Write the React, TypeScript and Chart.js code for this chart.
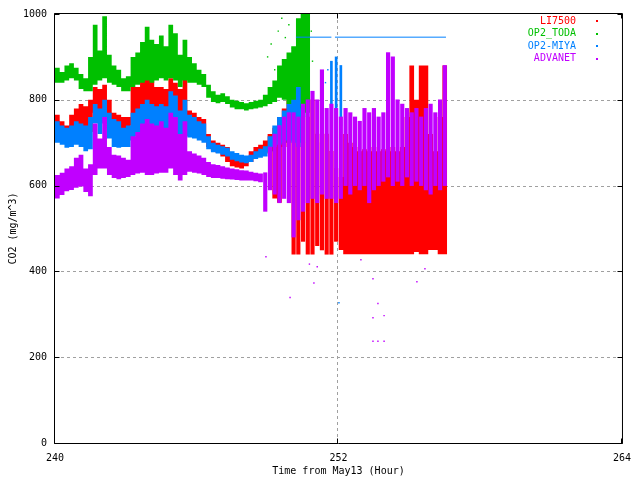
import { useEffect, useRef } from 'react';
import { Chart, registerables } from 'chart.js';

Chart.register(...registerables);

// time bins (hour from May13), 0.2 h wide, centre values
const BIN_WIDTH = 0.2;
const HOURS = [
  240.1, 240.3, 240.5, 240.7, 240.9, 241.1, 241.3, 241.5, 241.7, 241.9,
  242.1, 242.3, 242.5, 242.7, 242.9, 243.1, 243.3, 243.5, 243.7, 243.9,
  244.1, 244.3, 244.5, 244.7, 244.9, 245.1, 245.3, 245.5, 245.7, 245.9,
  246.1, 246.3, 246.5, 246.7, 246.9, 247.1, 247.3, 247.5, 247.7, 247.9,
  248.1, 248.3, 248.5, 248.7, 248.9, 249.1, 249.3, 249.5, 249.7, 249.9,
  250.1, 250.3, 250.5, 250.7, 250.9, 251.1, 251.3, 251.5, 251.7, 251.9,
  252.1, 252.3, 252.5, 252.7, 252.9, 253.1, 253.3, 253.5, 253.7, 253.9,
  254.1, 254.3, 254.5, 254.7, 254.9, 255.1, 255.3, 255.5, 255.7, 255.9,
  256.1, 256.3, 256.5,
];
// bins where a series no longer forms a band but scattered streaks
const ADVANET_STREAK_BINS = [44, 83];
const LI7500_STREAK_BINS = [50, 60];
const MIYA_STREAK_BINS = [58, 61];

// min / max of each series inside each bin (mg/m^3)
const LI7500_HI = [
  765, 750, 740, 765, 780, 790, 785, 800, 830, 825,
  835, 800, 770, 765, 760, 760, 830, 830, 850, 860,
  855, 830, 830, 825, 850, 840, 825, 860, 775, 770,
  760, 755, 720, 705, 700, 695, 690, 675, 670, 665,
  668, 680, 690, 695, 705, 720, 735, 760, 780, 800,
  760, 840, 700, 760, 800, 720, 700, 720, 680, 640,
  620, 720, 700, 690, 680, 685, 680, 690, 680, 685,
  680, 690, 680, 690, 760, 880, 800, 880, 880, 720,
  680, 760, 880,
];
const LI7500_LO = [
  720, 715, 710, 715, 720, 725, 720, 725, 770, 760,
  770, 745, 730, 720, 715, 715, 740, 745, 750, 755,
  755, 745, 745, 740, 745, 735, 730, 740, 725, 720,
  712, 705, 690, 680, 676, 668, 655, 645, 642, 640,
  645, 655, 668, 672, 675, 680, 570, 560, 690, 700,
  440, 440, 470, 440, 440, 460, 450, 440, 440, 470,
  450, 440, 440, 440, 440, 440, 440, 440, 440, 440,
  440, 440, 440, 440, 440, 440, 445, 440, 440, 450,
  450, 440, 440,
];

const TODA_HI = [
  875, 865, 880, 885, 875, 860, 850, 900, 975, 915,
  995, 905, 880, 870, 850, 855, 900, 910, 935, 970,
  940, 930, 950, 925, 975, 955, 905, 940, 900, 885,
  870, 860, 835, 820, 812, 815, 808, 800, 798, 795,
  792, 795, 798, 800, 812, 830, 845, 880, 895, 910,
  925, 990, 1000, 1000, null, null, null, null, null, null,
  null, null, null, null, null, null, null, null, null, null,
  null, null, null, null, null, null, null, null, null, null,
  null, null, null,
];
const TODA_LO = [
  840, 840, 845, 850, 845, 825, 820, 820, 835, 845,
  850, 840, 835, 830, 820, 820, 830, 835, 840, 845,
  840, 845, 850, 845, 850, 845, 830, 845, 840, 840,
  835, 830, 805, 795, 792, 795, 790, 782, 778, 778,
  775, 778, 780, 782, 785, 790, 795, 805, 800, 790,
  780, 770, 760, 770, null, null, null, null, null, null,
  null, null, null, null, null, null, null, null, null, null,
  null, null, null, null, null, null, null, null, null, null,
  null, null, null,
];

const MIYA_HI = [
  750, 740, 735, 740, 750, 745, 740, 760, 790, 780,
  800, 770, 755, 750, 735, 740, 770, 780, 790, 800,
  790, 785, 790, 785, 820, 810, 775, 800, 765, 760,
  750, 745, 715, 700, 695, 692, 688, 680, 676, 672,
  670, 672, 680, 686, 692, 715, 740, 760, 775, 790,
  800, 830, 780, null, null, null, null, null, 890, 900,
  880, null, null, null, null, null, null, null, null, null,
  null, null, null, null, null, null, null, null, null, null,
  null, null, null,
];
const MIYA_LO = [
  700, 695, 688, 690, 695, 690, 680, 685, 745, 720,
  745, 710, 690, 688, 690, 690, 705, 715, 718, 720,
  715, 715, 712, 710, 715, 700, 700, 715, 712, 710,
  705, 700, 685, 678, 675, 672, 668, 660, 657, 654,
  652, 655, 662, 665, 668, 678, 690, 695, 700, 705,
  700, 690, 700, null, null, null, null, null, 700, 730,
  740, null, null, null, null, null, null, null, null, null,
  null, null, null, null, null, null, null, null, null, null,
  null, null, null,
];

const ADVANET_HI = [
  625, 630, 640, 645, 665, 672, 640, 650, 745, 710,
  760, 690, 672, 670, 665, 660, 715, 725, 745, 755,
  745, 740, 750, 735, 770, 760, 720, 750, 680, 675,
  670, 665, 655, 650, 648, 645, 642, 640, 638, 636,
  635, 632, 630, 628, 630, 690, 720, 740, 760, 770,
  770, 760, 790, 800, 820, 800, 870, 780, 790, 780,
  760, 780, 770, 760, 750, 780, 770, 780, 760, 770,
  910, 900, 800, 790, 780, 770, 780, 760, 780, 790,
  770, 800, 880,
];
const ADVANET_LO = [
  570, 578, 587, 590, 595, 598, 585, 575, 625, 640,
  640, 625, 618, 615, 618, 620, 625, 628, 630, 625,
  625, 628, 630, 630, 640, 625, 612, 625, 632, 630,
  628, 625, 620, 618, 618, 616, 615, 614, 613, 612,
  612, 612, 610, 608, 540, 590, 580, 560, 570, 560,
  480, 520, 540, 560, 570, 560, 580, 570, 570, 560,
  570, 600, 580, 600, 590, 600, 560, 590, 600, 610,
  620, 600, 610, 600, 620, 600, 610, 600, 590, 580,
  600, 590, 600,
];

// stray single readings
const TODA_DOT_HOURS = [249.0, 249.15, 249.3, 249.45, 249.6, 249.75, 249.9, 250.05, 250.85, 250.9];
const TODA_DOT_VALUES = [900, 930, 870, 960, 990, 945, 975, 920, 960, 890];
const MIYA_DOT_HOURS = [251.45, 251.55, 252.02];
const MIYA_DOT_VALUES = [840, 870, 327];
const ADVANET_DOT_HOURS = [248.93, 249.95, 250.77, 250.96, 251.1, 252.95, 253.46, 253.46, 253.46, 253.67, 253.67, 253.93, 253.93, 255.32, 255.66];
const ADVANET_DOT_VALUES = [434, 339, 417, 373, 411, 427, 383, 292, 237, 325, 237, 297, 237, 376, 406];

// OP2-MIYA pinned at its ceiling
const MIYA_FLAT_START = [250.2, 251.85];
const MIYA_FLAT_END = [251.7, 256.55];
const MIYA_FLAT_VALUE = 946;

const X_TICKS = [240, 252, 264];
const Y_TICKS = [0, 200, 400, 600, 800, 1000];

const SERIES = [
  { label: 'LI7500', color: '#ff0000' },
  { label: 'OP2_TODA', color: '#00c000' },
  { label: 'OP2-MIYA', color: '#0080ff' },
  { label: 'ADVANET', color: '#c000ff' },
];

const FONT = "'DejaVu Sans Mono', 'Liberation Mono', monospace";

type Vals = (number | null)[];

// filled min/max band, one pair of stepped lines per unbroken run of bins
const bandDatasets = (label: string, color: string, lo: Vals, hi: Vals, skip: number[] = [0, 0]) => {
  const runs: number[][] = [];
  let cur: number[] = [];
  HOURS.forEach((_, i) => {
    const ok = hi[i] != null && lo[i] != null && (i < skip[0] || i >= skip[1]);
    if (ok) cur.push(i);
    else if (cur.length) {
      runs.push(cur);
      cur = [];
    }
  });
  if (cur.length) runs.push(cur);

  const edge = (run: number[], v: Vals) => [
    ...run.map((i) => ({ x: HOURS[i] - BIN_WIDTH / 2, y: v[i] })),
    { x: HOURS[run[run.length - 1]] + BIN_WIDTH / 2, y: v[run[run.length - 1]] },
  ];
  const common = { type: 'line', label, borderWidth: 0, pointRadius: 0, stepped: true };
  return runs.flatMap((run) => [
    { ...common, data: edge(run, hi), fill: '+1', backgroundColor: color, borderColor: color },
    { ...common, data: edge(run, lo), fill: false, borderColor: color },
  ]);
};

const toBars = (lo: Vals, hi: Vals, range: number[]) =>
  HOURS.map((t, i) =>
    i < range[0] || i >= range[1] || hi[i] == null || lo[i] == null ? null : { x: t, y: [lo[i], hi[i]] }
  ).filter((d) => d !== null);

const toDots = (hours: number[], values: number[]) => hours.map((t, i) => ({ x: t, y: values[i] }));

const flatLine = () => {
  const pts: { x: number; y: number | null }[] = [];
  MIYA_FLAT_START.forEach((s, i) => {
    if (i > 0) pts.push({ x: (MIYA_FLAT_END[i - 1] + s) / 2, y: null });
    pts.push({ x: s, y: MIYA_FLAT_VALUE }, { x: MIYA_FLAT_END[i], y: MIYA_FLAT_VALUE });
  });
  return pts;
};

const gnuplotFrame = {
  id: 'gnuplotFrame',
  beforeDatasetsDraw(chart: any) {
    const { ctx, chartArea: a, scales } = chart;
    ctx.save();
    ctx.strokeStyle = '#a0a0a0';
    ctx.lineWidth = 1;
    ctx.setLineDash([3, 3]);
    ctx.beginPath();
    Y_TICKS.slice(1, -1).forEach((v) => {
      const py = Math.round(scales.y.getPixelForValue(v)) + 0.5;
      ctx.moveTo(a.left, py);
      ctx.lineTo(a.right, py);
    });
    X_TICKS.slice(1, -1).forEach((v) => {
      const px = Math.round(scales.x.getPixelForValue(v)) - 0.5;
      ctx.moveTo(px, a.top);
      ctx.lineTo(px, a.bottom);
    });
    ctx.stroke();
    ctx.restore();
  },
  afterDatasetsDraw(chart: any) {
    const { ctx, chartArea: a, scales } = chart;
    const l = a.left - 0.5;
    const r = a.right + 0.5;
    const t = a.top - 0.5;
    const b = a.bottom + 0.5;
    ctx.save();
    ctx.strokeStyle = '#000';
    ctx.lineWidth = 1;
    ctx.beginPath();
    ctx.moveTo(l, t);
    ctx.lineTo(r, t);
    ctx.lineTo(r, b);
    ctx.lineTo(l, b);
    ctx.closePath();
    Y_TICKS.forEach((v) => {
      const py = Math.round(scales.y.getPixelForValue(v)) + 0.5;
      ctx.moveTo(l, py);
      ctx.lineTo(l + 5, py);
      ctx.moveTo(r, py);
      ctx.lineTo(r - 5, py);
    });
    X_TICKS.forEach((v) => {
      const px = Math.round(scales.x.getPixelForValue(v)) - 0.5;
      ctx.moveTo(px, b);
      ctx.lineTo(px, b - 5);
      ctx.moveTo(px, t);
      ctx.lineTo(px, t + 5);
    });
    ctx.stroke();
    ctx.restore();
  },
  afterDraw(chart: any) {
    const { ctx, chartArea: a } = chart;
    ctx.save();
    ctx.font = `10px ${FONT}`;
    ctx.fillStyle = '#000';
    ctx.textAlign = 'center';
    ctx.textBaseline = 'middle';
    ctx.fillText('Time from May13 (Hour)', (a.left + a.right) / 2, 471);
    ctx.save();
    ctx.translate(13, (a.top + a.bottom) / 2);
    ctx.rotate(-Math.PI / 2);
    ctx.fillText('CO2 (mg/m^3)', 0, 0);
    ctx.restore();
    ctx.textAlign = 'right';
    SERIES.forEach((s, i) => {
      const y = 21 + i * 12.5;
      ctx.fillStyle = s.color;
      ctx.fillText(s.label, 576, y);
      ctx.fillRect(596, Math.round(y) - 1, 2, 2);
    });
    ctx.restore();
  },
};

export default function App() {
  const canvasRef = useRef<HTMLCanvasElement>(null);

  useEffect(() => {
    if (!canvasRef.current) return;
    const [li, toda, miya, adv] = SERIES;
    const dot = { type: 'scatter', pointRadius: 1, pointStyle: 'rect', borderWidth: 0 };
    const streak = { type: 'bar', grouped: false, barThickness: 3.5, borderWidth: 0 };
    const thinStreak = { ...streak, barThickness: 2 };

    // first dataset is painted last (on top), as gnuplot paints ADVANET last
    const datasets = [
      { ...dot, label: adv.label, data: toDots(ADVANET_DOT_HOURS, ADVANET_DOT_VALUES), backgroundColor: adv.color },
      { ...streak, label: adv.label, data: toBars(ADVANET_LO, ADVANET_HI, ADVANET_STREAK_BINS), backgroundColor: adv.color },
      ...bandDatasets(adv.label, adv.color, ADVANET_LO, ADVANET_HI, ADVANET_STREAK_BINS),
      {
        type: 'line',
        label: miya.label,
        data: flatLine(),
        borderColor: miya.color,
        borderWidth: 1,
        pointRadius: 0,
        spanGaps: false,
        fill: false,
      },
      { ...dot, label: miya.label, data: toDots(MIYA_DOT_HOURS, MIYA_DOT_VALUES), backgroundColor: miya.color },
      { ...thinStreak, label: miya.label, data: toBars(MIYA_LO, MIYA_HI, MIYA_STREAK_BINS), backgroundColor: miya.color },
      ...bandDatasets(miya.label, miya.color, MIYA_LO, MIYA_HI, MIYA_STREAK_BINS),
      { ...dot, label: toda.label, data: toDots(TODA_DOT_HOURS, TODA_DOT_VALUES), backgroundColor: toda.color },
      ...bandDatasets(toda.label, toda.color, TODA_LO, TODA_HI),
      { ...streak, label: li.label, data: toBars(LI7500_LO, LI7500_HI, LI7500_STREAK_BINS), backgroundColor: li.color },
      ...bandDatasets(li.label, li.color, LI7500_LO, LI7500_HI, LI7500_STREAK_BINS),
    ];

    const chart = new Chart(canvasRef.current, {
      type: 'bar',
      data: { datasets: datasets as any },
      options: {
        responsive: false,
        animation: false,
        events: [],
        layout: { padding: { left: 0, top: 12, right: 18, bottom: 0 } },
        plugins: {
          legend: { display: false },
          tooltip: { enabled: false },
        },
        scales: {
          x: {
            type: 'linear',
            min: 240,
            max: 264,
            offset: false,
            grid: { display: false, drawTicks: false },
            border: { display: false },
            afterBuildTicks: (s: any) => {
              s.ticks = X_TICKS.map((v) => ({ value: v }));
            },
            afterFit: (s: any) => {
              s.height = 37;
            },
            ticks: {
              autoSkip: false,
              maxRotation: 0,
              padding: 9,
              color: '#000',
              font: { family: FONT, size: 10 },
              callback: (v: any) => String(v),
            },
          },
          y: {
            min: 0,
            max: 1000,
            grid: { display: false, drawTicks: false },
            border: { display: false },
            afterBuildTicks: (s: any) => {
              s.ticks = Y_TICKS.map((v) => ({ value: v }));
            },
            afterFit: (s: any) => {
              s.width = 55;
            },
            ticks: {
              padding: 8,
              color: '#000',
              font: { family: FONT, size: 10 },
              callback: (v: any) => String(v),
            },
          },
        },
      },
      plugins: [gnuplotFrame as any],
    });

    return () => chart.destroy();
  }, []);

  return (
    <div style={{ position: 'fixed', left: 0, top: 0, width: 640, height: 480, background: '#fff' }}>
      <canvas ref={canvasRef} width={640} height={480} style={{ display: 'block' }} />
    </div>
  );
}
